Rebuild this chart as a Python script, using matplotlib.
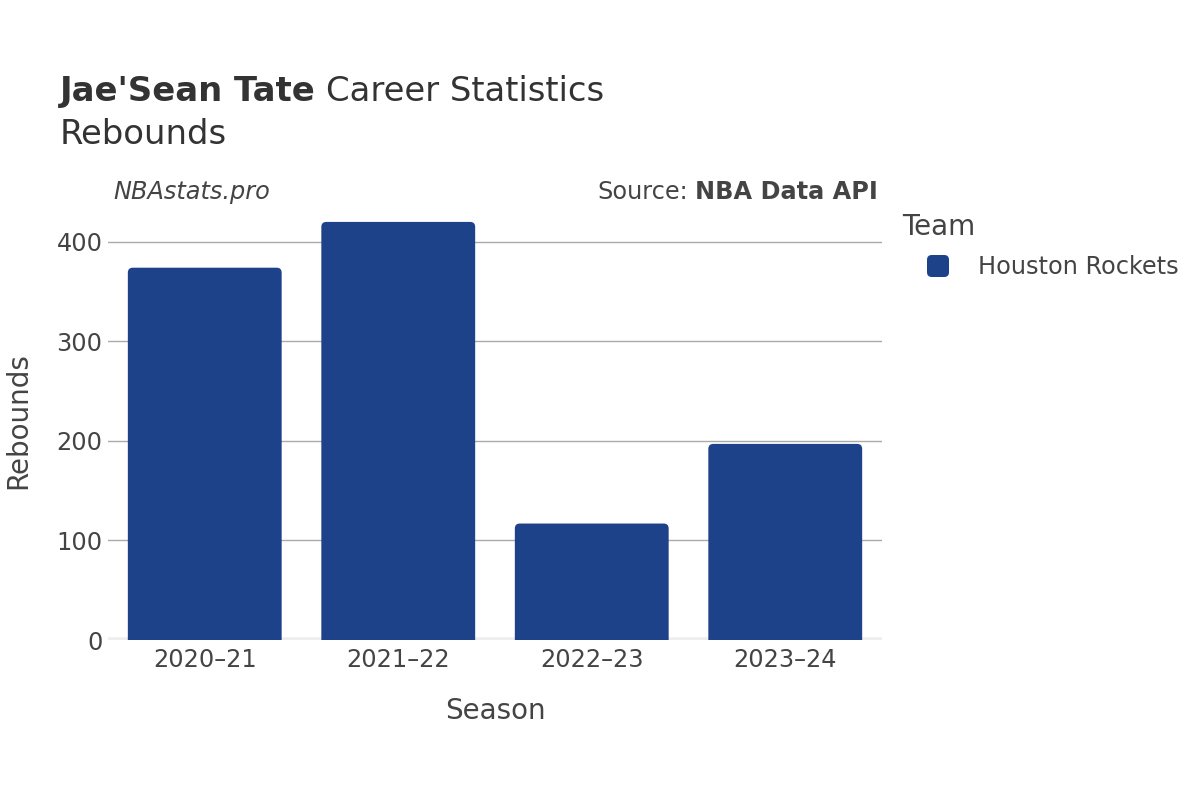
import matplotlib
matplotlib.use("Agg")
import matplotlib.pyplot as plt
from matplotlib.patches import FancyBboxPatch

seasons = ["2020\u201321", "2021\u201322", "2022\u201323", "2023\u201324"]
rebounds = [374, 420, 117, 197]
team = "Houston Rockets"
yticks = [0, 100, 200, 300, 400]

bar_color = "#1d428a"
text_color = "#444444"
title_color = "#333333"

plt.rcParams["font.family"] = "DejaVu Sans"

fig = plt.figure(figsize=(12, 8), dpi=100)
ax = fig.add_axes([108 / 1200, 160 / 800, 774 / 1200, 438 / 800])

ymax = 440
ax.set_xlim(-0.5, len(seasons) - 0.5)
ax.set_ylim(0, ymax)

# px per data unit, so the corner rounding stays circular
px_x = 774 / len(seasons)
px_y = 438 / ymax
r = 5 / px_x
aspect = px_x / px_y

for i, v in enumerate(rebounds):
    w = 0.795
    p = FancyBboxPatch((i - w / 2, -10), w, v + 10,
                       boxstyle=f"round,pad=0,rounding_size={r}",
                       mutation_aspect=aspect, facecolor=bar_color,
                       edgecolor="none", zorder=3)
    ax.add_patch(p)

ax.set_yticks(yticks)
ax.set_xticks(range(len(seasons)))
ax.set_xticklabels(seasons)
ax.grid(axis="y", color="#aaaaaa", linewidth=1, zorder=0)
ax.axhline(0, color="#eeeeee", linewidth=4, zorder=2)
for s in ax.spines.values():
    s.set_visible(False)
ax.tick_params(axis="both", length=0, labelsize=17.3, labelcolor=text_color)
ax.tick_params(axis="x", pad=6)
ax.tick_params(axis="y", pad=4)

ax.set_xlabel("Season", fontsize=20, color=text_color, labelpad=18)
ax.set_ylabel("Rebounds", fontsize=20, color=text_color, labelpad=17)

t1 = fig.text(60 / 1200, 1 - 101 / 800, "Jae'Sean Tate", fontsize=24.4,
              fontweight="bold", color=title_color, va="baseline")
fig.canvas.draw()
bb = t1.get_window_extent()
fig.text((bb.x1 + 10) / 1200, 1 - 101 / 800, "Career Statistics",
         fontsize=24.4, color=title_color, va="baseline")
fig.text(60 / 1200, 1 - 144 / 800, "Rebounds", fontsize=24.4,
         color=title_color, va="baseline")

fig.text(113 / 1200, 1 - 192 / 800, "NBAstats.pro", fontsize=17.3,
         style="italic", color=text_color, va="center")
s2 = fig.text(878 / 1200, 1 - 192 / 800, "NBA Data API", fontsize=17.3,
              fontweight="bold", color=text_color, va="center", ha="right")
fig.canvas.draw()
bb2 = s2.get_window_extent()
fig.text((bb2.x0 - 7) / 1200, 1 - 192 / 800, "Source:", fontsize=17.3,
         color=text_color, va="center", ha="right")

fig.text(902 / 1200, 1 - 227 / 800, "Team", fontsize=20, color=text_color,
         va="center")
fig.patches.append(FancyBboxPatch((927 / 1200, 1 - 277 / 800), 22 / 1200, 22 / 800,
                                  boxstyle="round,pad=0,rounding_size=0.004",
                                  mutation_aspect=1.5,
                                  transform=fig.transFigure, facecolor=bar_color,
                                  edgecolor="none", figure=fig))
fig.text(978 / 1200, 1 - 267 / 800, team, fontsize=17.3, color=text_color,
         va="center")

fig.savefig("out.png", dpi=100)
